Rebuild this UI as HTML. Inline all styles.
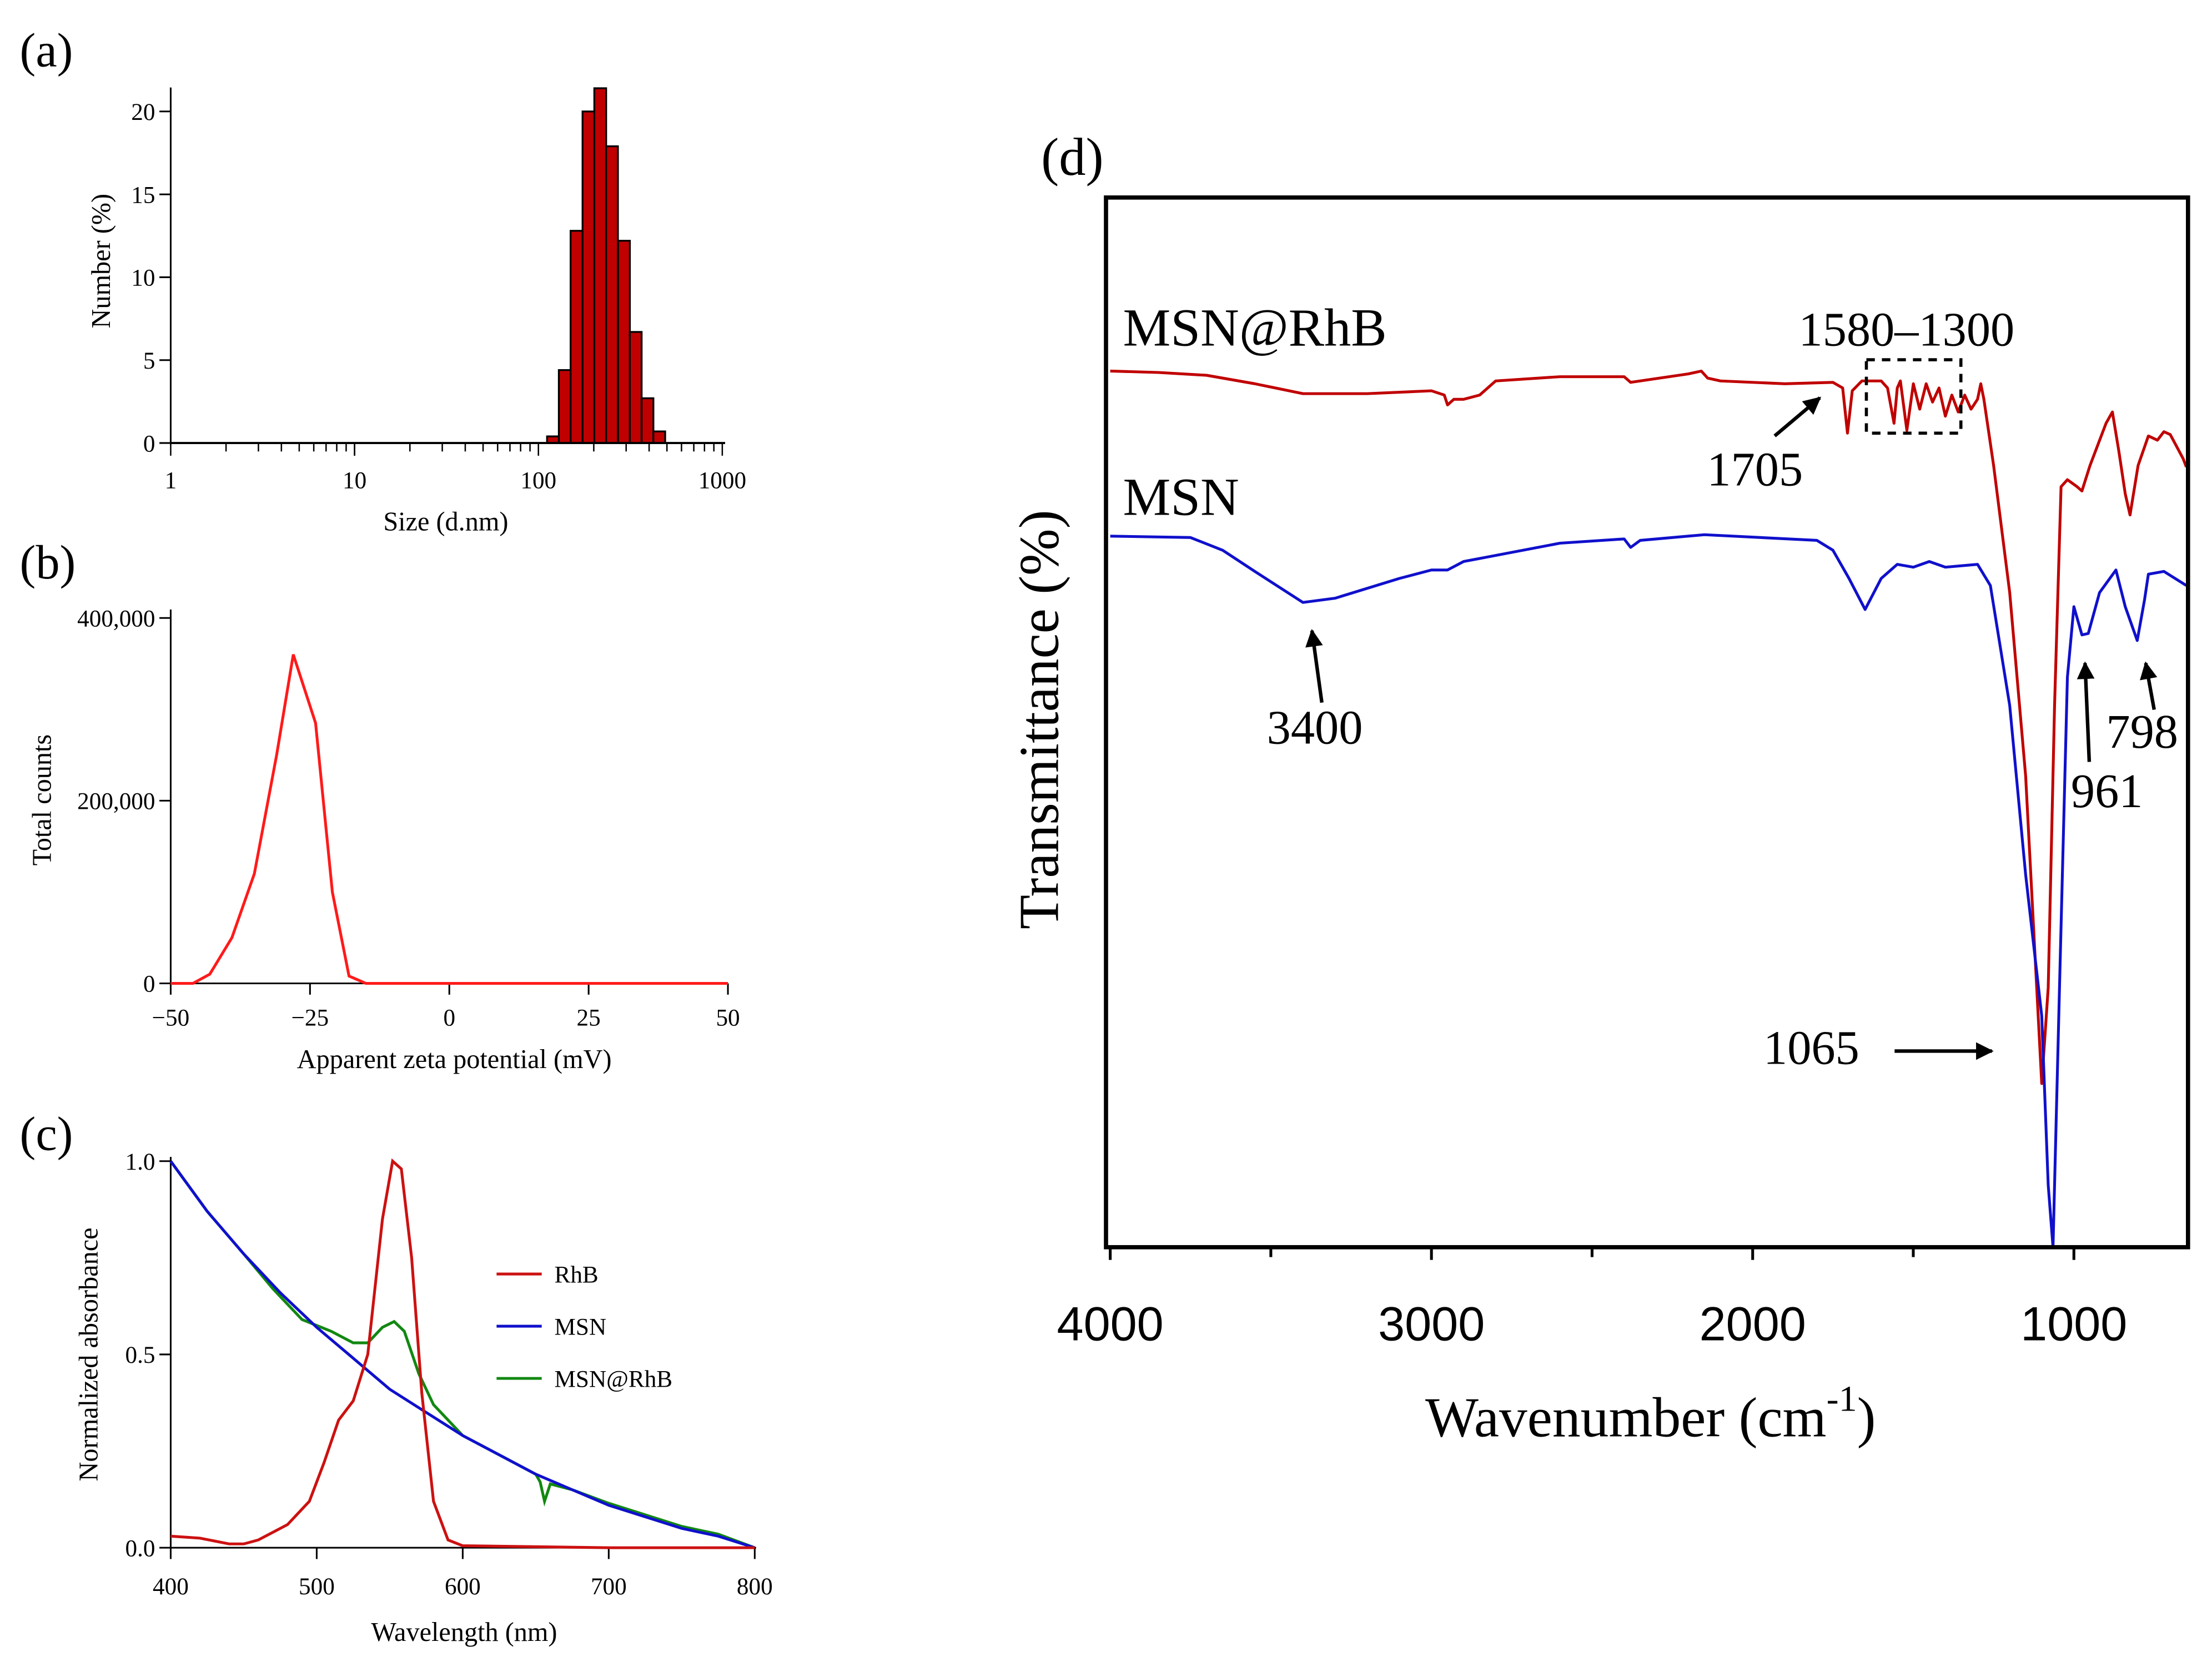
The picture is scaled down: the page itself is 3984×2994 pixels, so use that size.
<!DOCTYPE html>
<html><head><meta charset="utf-8"><style>
html,body{margin:0;padding:0;background:#fff;}
svg{display:block;font-family:"Liberation Serif",serif;}
</style></head><body>
<svg id="fig" width="3984" height="2994" viewBox="0 0 1568 1178" preserveAspectRatio="none" xmlns="http://www.w3.org/2000/svg">
<rect width="1568" height="1178" fill="#fff"/>
<text x="14" y="47" font-size="34">(a)</text>
<text x="14" y="410" font-size="34">(b)</text>
<text x="14" y="815" font-size="34">(c)</text>
<text x="738" y="124" font-size="38">(d)</text>
<g id="pa"></g>
<g id="pb"></g>
<g id="pc"></g>
<g id="pd"></g>
</svg>
<script>
// Panel a data
const aBinStartsLog = [2.047,2.111,2.175,2.240,2.304,2.368,2.433,2.497,2.561,2.625];
const aValues = [0.4,4.4,12.8,20,21.4,17.9,12.2,6.7,2.7,0.7];
const aYTicks = [0,5,10,15,20];
const aXTicks = [1,10,100,1000];
// Panel b data
const bX = [-50,-46,-43,-39,-35,-31,-28,-24,-21,-18,-15,-12,0,25,50];
const bY = [0,0,10000,50000,120000,250000,360000,285000,100000,8000,0,0,0,0,0];
const bXTicks = [-50,-25,0,25,50];
const bYTicks = [0,200000,400000];
const bYTickLabels = ["0","200,000","400,000"];
// Panel c data
const cRhBX = [400,420,440,450,460,480,495,505,515,525,535,545,552,558,565,572,580,590,600,700,800];
const cRhBY = [0.03,0.025,0.01,0.01,0.02,0.06,0.12,0.22,0.33,0.38,0.5,0.85,1.0,0.98,0.75,0.4,0.12,0.02,0.005,0,0];
const cMSNX = [400,425,450,475,500,525,550,575,600,625,650,675,700,725,750,775,800];
const cMSNY = [1.0,0.87,0.76,0.66,0.57,0.49,0.41,0.35,0.29,0.24,0.19,0.15,0.11,0.08,0.05,0.03,0];
const cMixX = [400,425,450,470,490,510,525,535,545,553,560,570,580,600,625,650,653,656,660,675,700,725,750,775,800];
const cMixY = [1.0,0.87,0.76,0.67,0.59,0.56,0.53,0.53,0.57,0.585,0.56,0.45,0.37,0.29,0.24,0.19,0.17,0.12,0.165,0.15,0.115,0.085,0.055,0.035,0];
const cXTicks = [400,500,600,700,800];
const cYTicks = [0,0.5,1.0];
const cYTickLabels = ["0.0","0.5","1.0"];
// Panel d data (y in plot units: depth below top, 0..744)
const dRedX = [4000,3850,3700,3550,3400,3200,3000,2960,2950,2930,2900,2850,2800,2600,2400,2380,2200,2160,2140,2100,1900,1750,1720,1705,1690,1660,1600,1580,1560,1550,1540,1520,1500,1480,1460,1440,1420,1400,1380,1360,1340,1320,1300,1290,1280,1250,1200,1150,1100,1080,1060,1040,1020,990,975,950,900,880,860,840,825,800,768,740,720,700,660,650];
const dRedY = [123,124,126,132,139,139,137,140,147,143,143,140,130,127,127,131,125,123,128,130,132,131,135,167,137,130,130,135,160,135,130,165,132,150,132,145,135,155,140,152,140,150,143,132,143,190,280,410,628,560,360,205,200,205,208,190,160,152,180,210,225,190,169,172,166,168,185,191];
const dBlueX = [4000,3750,3650,3550,3400,3300,3100,3000,2950,2900,2600,2400,2380,2350,2150,1800,1750,1700,1650,1600,1550,1500,1450,1400,1300,1260,1200,1150,1100,1080,1065,1045,1020,1000,975,955,920,869,840,803,780,768,720,650];
const dBlueY = [240,241,250,265,287,284,270,264,264,258,245,242,248,243,239,243,250,270,292,270,260,262,258,262,260,275,360,480,580,700,744,560,340,290,310,309,280,264,290,314,285,267,265,275];
const dXTicks = [4000,3000,2000,1000];
const dMinorTicks = [3500,2500,1500];

function mk(parent, tag, attrs, txt){
  const e = document.createElementNS("http://www.w3.org/2000/svg", tag);
  for (const k in attrs) e.setAttribute(k, attrs[k]);
  if (txt !== undefined) e.textContent = txt;
  parent.appendChild(e);
  return e;
}
function poly(xs, ys, fx, fy){ return xs.map((x,i)=>fx(x).toFixed(1)+","+fy(ys[i]).toFixed(1)).join(" "); }

// ---------- Panel a ----------
(function(){
  const g = document.getElementById("pa");
  const fx = v => 121 + (v)*(391/3);
  const fy = v => 314 - v*11.75;
  const w = 0.0643;
  aValues.forEach((v,i)=>{
    const x0 = fx(aBinStartsLog[i]), x1 = fx(aBinStartsLog[i]+w);
    const r = mk(g,"rect",{x:x0,y:fy(v),width:x1-x0,height:fy(0)-fy(v),fill:"#c00000",stroke:"#000","stroke-width":1.3});
    
    
  });
  mk(g,"line",{x1:121,y1:62,x2:121,y2:315,stroke:"#000","stroke-width":1.2});
  mk(g,"line",{x1:121,y1:314,x2:514,y2:314,stroke:"#000","stroke-width":1.5});
  aYTicks.forEach(t=>{
    mk(g,"line",{x1:113,y1:fy(t),x2:121,y2:fy(t),stroke:"#000","stroke-width":1.2});
    const tx = mk(g,"text",{x:110,y:fy(t)+6,"font-size":17,"text-anchor":"end"},String(t));
    
    
  });
  for (let d=0; d<3; d++) for (let m=1; m<=10; m++){
    const x = fx(d+Math.log10(m));
    mk(g,"line",{x1:x,y1:314,x2:x,y2:m===1||m===10?323:320,stroke:"#000","stroke-width":1});
  }
  aXTicks.forEach(t=>{
    const tx = mk(g,"text",{x:fx(Math.log10(t)),y:346,"font-size":17,"text-anchor":"middle"},String(t));
    
    
  });
  const xt = mk(g,"text",{x:316,y:376,"font-size":19,"text-anchor":"middle"},"Size (d.nm)");
  
  
  const yt = mk(g,"text",{x:0,y:0,"font-size":19,"text-anchor":"middle",transform:"translate(78,185) rotate(-90)"},"Number (%)");
  
  
})();

// ---------- Panel b ----------
(function(){
  const g = document.getElementById("pb");
  const fx = v => 121 + (v+50)*3.95;
  const fy = v => 697 - v*(259/400000);
  mk(g,"line",{x1:121,y1:432,x2:121,y2:697,stroke:"#000","stroke-width":1.2});
  mk(g,"line",{x1:121,y1:697,x2:516,y2:697,stroke:"#000","stroke-width":1.2});
  bYTicks.forEach((t,i)=>{
    mk(g,"line",{x1:113,y1:fy(t),x2:121,y2:fy(t),stroke:"#000","stroke-width":1.2});
    const tx = mk(g,"text",{x:110,y:fy(t)+6,"font-size":17,"text-anchor":"end"},bYTickLabels[i]);
    
    
  });
  bXTicks.forEach(t=>{
    mk(g,"line",{x1:fx(t),y1:697,x2:fx(t),y2:705,stroke:"#000","stroke-width":1.2});
    const tx = mk(g,"text",{x:fx(t),y:727,"font-size":17,"text-anchor":"middle"},t<0?"\u2212"+(-t):String(t));
    
    
  });
  const l = mk(g,"polyline",{points:poly(bX,bY,fx,fy),fill:"none",stroke:"#ff1a1a","stroke-width":2});
  
  
  const xt = mk(g,"text",{x:322,y:757,"font-size":19,"text-anchor":"middle"},"Apparent zeta potential (mV)");
  
  
  const yt = mk(g,"text",{x:0,y:0,"font-size":19,"text-anchor":"middle",transform:"translate(36,567) rotate(-90)"},"Total counts");
  
  
})();

// ---------- Panel c ----------
(function(){
  const g = document.getElementById("pc");
  const fx = v => 121 + (v-400)*(414/400);
  const fy = v => 1097 - v*274;
  mk(g,"line",{x1:121,y1:820,x2:121,y2:1097,stroke:"#000","stroke-width":1.2});
  mk(g,"line",{x1:121,y1:1097,x2:536,y2:1097,stroke:"#000","stroke-width":1.2});
  cYTicks.forEach((t,i)=>{
    mk(g,"line",{x1:113,y1:fy(t),x2:121,y2:fy(t),stroke:"#000","stroke-width":1.2});
    const tx = mk(g,"text",{x:110,y:fy(t)+6,"font-size":17,"text-anchor":"end"},cYTickLabels[i]);
    
    
  });
  cXTicks.forEach(t=>{
    mk(g,"line",{x1:fx(t),y1:1097,x2:fx(t),y2:1105,stroke:"#000","stroke-width":1.2});
    const tx = mk(g,"text",{x:fx(t),y:1130,"font-size":17,"text-anchor":"middle"},String(t));
    
    
  });
  const s2 = mk(g,"polyline",{points:poly(cMixX,cMixY,fx,fy),fill:"none",stroke:"#118811","stroke-width":2});
  
  
  const s1 = mk(g,"polyline",{points:poly(cMSNX,cMSNY,fx,fy),fill:"none",stroke:"#1010cc","stroke-width":2});
  
  
  const s3 = mk(g,"polyline",{points:poly(cRhBX,cRhBY,fx,fy),fill:"none",stroke:"#cc1111","stroke-width":2});
  
  
  const leg = [["RhB","#cc1111",903],["MSN","#1010cc",940],["MSN@RhB","#118811",977]];
  leg.forEach(L=>{
    mk(g,"line",{x1:352,y1:L[2],x2:384,y2:L[2],stroke:L[1],"stroke-width":2});
    const tx = mk(g,"text",{x:393,y:L[2]+6,"font-size":17},L[0]);
    
    
  });
  const xt = mk(g,"text",{x:329,y:1163,"font-size":19,"text-anchor":"middle"},"Wavelength (nm)");
  
  
  const yt = mk(g,"text",{x:0,y:0,"font-size":19,"text-anchor":"middle",transform:"translate(69,960) rotate(-90)"},"Normalized absorbance");
  
  
})();

// ---------- Panel d ----------
(function(){
  const g = document.getElementById("pd");
  const fx = v => 787 + (4000-v)*0.2277;
  const fy = v => 140 + v;
  const r = mk(g,"polyline",{points:poly(dRedX,dRedY,fx,fy),fill:"none",stroke:"#c00000","stroke-width":2,"stroke-linejoin":"round"});
  
  
  const b = mk(g,"polyline",{points:poly(dBlueX,dBlueY,fx,fy),fill:"none",stroke:"#1010cc","stroke-width":2,"stroke-linejoin":"round"});
  
  
  mk(g,"rect",{x:784,y:140,width:767,height:744,fill:"none",stroke:"#000","stroke-width":3});
  dXTicks.forEach(t=>{
    mk(g,"line",{x1:fx(t),y1:884,x2:fx(t),y2:893,stroke:"#000","stroke-width":2});
    const tx = mk(g,"text",{x:fx(t),y:950,"font-size":34,"text-anchor":"middle","font-family":"Liberation Sans, sans-serif"},String(t));
    
    
  });
  dMinorTicks.forEach(t=>{
    mk(g,"line",{x1:fx(t),y1:884,x2:fx(t),y2:891,stroke:"#000","stroke-width":2});
  });
  const xt = mk(g,"text",{x:1170,y:1018,"font-size":40,"text-anchor":"middle"});
  xt.innerHTML = 'Wavenumber (cm<tspan font-size="26" dy="-18">-1</tspan><tspan dy="18">)</tspan>';
  
  
  const yt = mk(g,"text",{x:0,y:0,"font-size":40,"text-anchor":"middle",transform:"translate(750,510) rotate(-90)"},"Transmittance (%)");
  
  
  const ann = [["MSN@RhB",796,245,38],["MSN",796,365,38],["1580\u20131300",1275,245,34],["1705",1210,344,34],["3400",898,527,34],["1065",1250,754,34],["961",1468,572,34],["798",1493,530,34]];
  ann.forEach(a=>{
    const tx = mk(g,"text",{x:a[1],y:a[2],"font-size":a[3]},a[0]);
    
    
  });
  mk(g,"rect",{x:1323,y:255,width:67,height:52,fill:"none",stroke:"#000","stroke-width":2.2,"stroke-dasharray":"6,5"});
  mk(g,"defs",{}).innerHTML='<marker id="ah" viewBox="0 0 10 10" refX="9" refY="5" markerWidth="5" markerHeight="5" orient="auto"><path d="M0,0 L10,5 L0,10 z" fill="#000"/></marker>';
  [[1258,309,1290,282],[937,498,930,447],[1343,745,1412,745],[1481,540,1478,470],[1527,503,1521,470]].forEach(a=>{
    const l = mk(g,"line",{x1:a[0],y1:a[1],x2:a[2],y2:a[3],stroke:"#000","stroke-width":2.5,"marker-end":"url(#ah)"});
    
    
  });
})();
</script>
</body></html>
